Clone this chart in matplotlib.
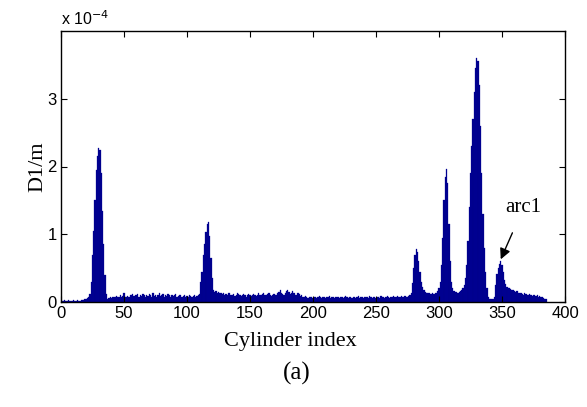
import matplotlib.pyplot as plt
import numpy as np

# D1/m per cylinder (values in units of 1e-4)
d1 = [
    0.02, 0.02, 0.03, 0.02, 0.02, 0.03, 0.02, 0.02, 0.02, 0.03,   # 1
    0.02, 0.02, 0.03, 0.02, 0.02, 0.03, 0.03, 0.03, 0.04, 0.05,   # 11
    0.06, 0.08, 0.12, 0.30, 0.70, 1.05, 1.50, 1.95, 2.15, 2.27,   # 21
    2.25, 1.90, 1.35, 0.85, 0.40, 0.12, 0.05, 0.06, 0.07, 0.06,   # 31
    0.08, 0.07, 0.08, 0.09, 0.07, 0.08, 0.10, 0.07, 0.09, 0.13,   # 41
    0.08, 0.07, 0.09, 0.08, 0.11, 0.10, 0.12, 0.09, 0.11, 0.10,   # 51
    0.12, 0.08, 0.11, 0.09, 0.12, 0.10, 0.08, 0.11, 0.09, 0.12,   # 61
    0.10, 0.08, 0.13, 0.09, 0.10, 0.08, 0.11, 0.13, 0.09, 0.10,   # 71
    0.12, 0.08, 0.10, 0.09, 0.12, 0.10, 0.08, 0.11, 0.09, 0.10,   # 81
    0.12, 0.08, 0.09, 0.11, 0.10, 0.08, 0.09, 0.10, 0.08, 0.09,   # 91
    0.08, 0.10, 0.09, 0.08, 0.09, 0.10, 0.08, 0.09, 0.10, 0.12,   # 101
    0.30, 0.45, 0.70, 0.85, 1.04, 1.15, 1.18, 0.98, 0.65, 0.35,   # 111
    0.18, 0.15, 0.16, 0.14, 0.15, 0.13, 0.14, 0.12, 0.13, 0.11,   # 121
    0.12, 0.10, 0.13, 0.14, 0.11, 0.10, 0.12, 0.09, 0.11, 0.13,   # 131
    0.12, 0.10, 0.09, 0.11, 0.12, 0.10, 0.08, 0.10, 0.12, 0.11,   # 141
    0.09, 0.10, 0.12, 0.11, 0.09, 0.10, 0.13, 0.11, 0.10, 0.12,   # 151
    0.14, 0.11, 0.10, 0.12, 0.13, 0.11, 0.09, 0.10, 0.12, 0.10,   # 161
    0.11, 0.13, 0.15, 0.17, 0.14, 0.12, 0.10, 0.13, 0.16, 0.18,   # 171
    0.15, 0.12, 0.14, 0.16, 0.13, 0.10, 0.11, 0.14, 0.12, 0.09,   # 181
    0.10, 0.08, 0.07, 0.09, 0.08, 0.06, 0.07, 0.08, 0.07, 0.06,   # 191
    0.07, 0.08, 0.06, 0.07, 0.09, 0.07, 0.06, 0.08, 0.07, 0.06,   # 201
    0.08, 0.07, 0.09, 0.06, 0.07, 0.08, 0.06, 0.07, 0.08, 0.07,   # 211
    0.06, 0.08, 0.07, 0.06, 0.07, 0.09, 0.07, 0.06, 0.08, 0.07,   # 221
    0.06, 0.07, 0.08, 0.06, 0.07, 0.09, 0.06, 0.07, 0.08, 0.06,   # 231
    0.07, 0.08, 0.07, 0.06, 0.09, 0.07, 0.06, 0.08, 0.07, 0.06,   # 241
    0.08, 0.07, 0.06, 0.09, 0.07, 0.08, 0.06, 0.07, 0.09, 0.07,   # 251
    0.06, 0.08, 0.07, 0.09, 0.07, 0.08, 0.09, 0.07, 0.08, 0.09,   # 261
    0.08, 0.07, 0.09, 0.08, 0.07, 0.09, 0.10, 0.14, 0.28, 0.50,   # 271
    0.70, 0.78, 0.74, 0.60, 0.45, 0.30, 0.22, 0.17, 0.15, 0.14,   # 281
    0.13, 0.13, 0.12, 0.12, 0.13, 0.12, 0.13, 0.14, 0.16, 0.20,   # 291
    0.30, 0.55, 0.95, 1.50, 1.85, 1.97, 1.75, 1.15, 0.60, 0.30,   # 301
    0.20, 0.16, 0.15, 0.15, 0.14, 0.15, 0.16, 0.17, 0.20, 0.25,   # 311
    0.35, 0.55, 0.90, 1.40, 1.90, 2.30, 2.70, 3.10, 3.45, 3.60,   # 321
    3.55, 3.20, 2.60, 1.90, 1.30, 0.80, 0.45, 0.20, 0.08, 0.05,   # 331
    0.04, 0.04, 0.05, 0.08, 0.25, 0.42, 0.50, 0.56, 0.61, 0.55,   # 341
    0.45, 0.33, 0.26, 0.22, 0.21, 0.20, 0.19, 0.18, 0.17, 0.16,   # 351
    0.15, 0.16, 0.14, 0.13, 0.14, 0.12, 0.11, 0.13, 0.12, 0.10,   # 361
    0.11, 0.12, 0.10, 0.09, 0.11, 0.10, 0.09, 0.10, 0.08, 0.09,   # 371
    0.08, 0.07, 0.06, 0.05, 0.04,                                 # 381
]
cylinder = np.arange(1, len(d1) + 1)

xticks = [0, 50, 100, 150, 200, 250, 300, 350, 400]
yticks = [0, 1, 2, 3]

sans = ['Liberation Sans', 'DejaVu Sans']
serif = ['Liberation Serif', 'DejaVu Serif']

fig = plt.figure(figsize=(5.87, 4.07), dpi=100)
ax = fig.add_axes([61/587, 1 - 302/407, 504/587, 271/407])

ax.bar(cylinder, d1, width=1.0, color='#00008c', edgecolor='#00009a', linewidth=0.2)

ax.set_xlim(0, 400)
ax.set_ylim(0, 4)
ax.set_xticks(xticks)
ax.set_yticks(yticks)
ax.set_xticklabels([str(t) for t in xticks], family=sans, fontsize=12)
ax.set_yticklabels([str(t) for t in yticks], family=sans, fontsize=12)
ax.tick_params(direction='in', length=4, width=0.8, top=True, right=True, pad=3)
for s in ax.spines.values():
    s.set_linewidth(1.0)

ax.set_xlabel('Cylinder index', family=serif, fontsize=16)
ax.xaxis.set_label_coords(0.456, -0.112)
ax.set_ylabel('D1/m', family=serif, fontsize=16)
ax.yaxis.set_label_coords(-0.028, 0.5)
ax.text(0, 1.012, r'x 10$^{-4}$', transform=ax.transAxes, family=sans,
        fontsize=11.5, ha='left', va='bottom')
fig.text(0.506, 0.083, '(a)', family=serif, fontsize=18, ha='center', va='center')

ax.annotate('arc1', xy=(349, 0.63), xytext=(367, 1.39), family=serif, fontsize=15,
            ha='center', va='center',
            arrowprops=dict(arrowstyle='-|>', color='black', lw=1,
                            mutation_scale=16, shrinkA=10, shrinkB=0))

fig.savefig('out.png', dpi=100)
